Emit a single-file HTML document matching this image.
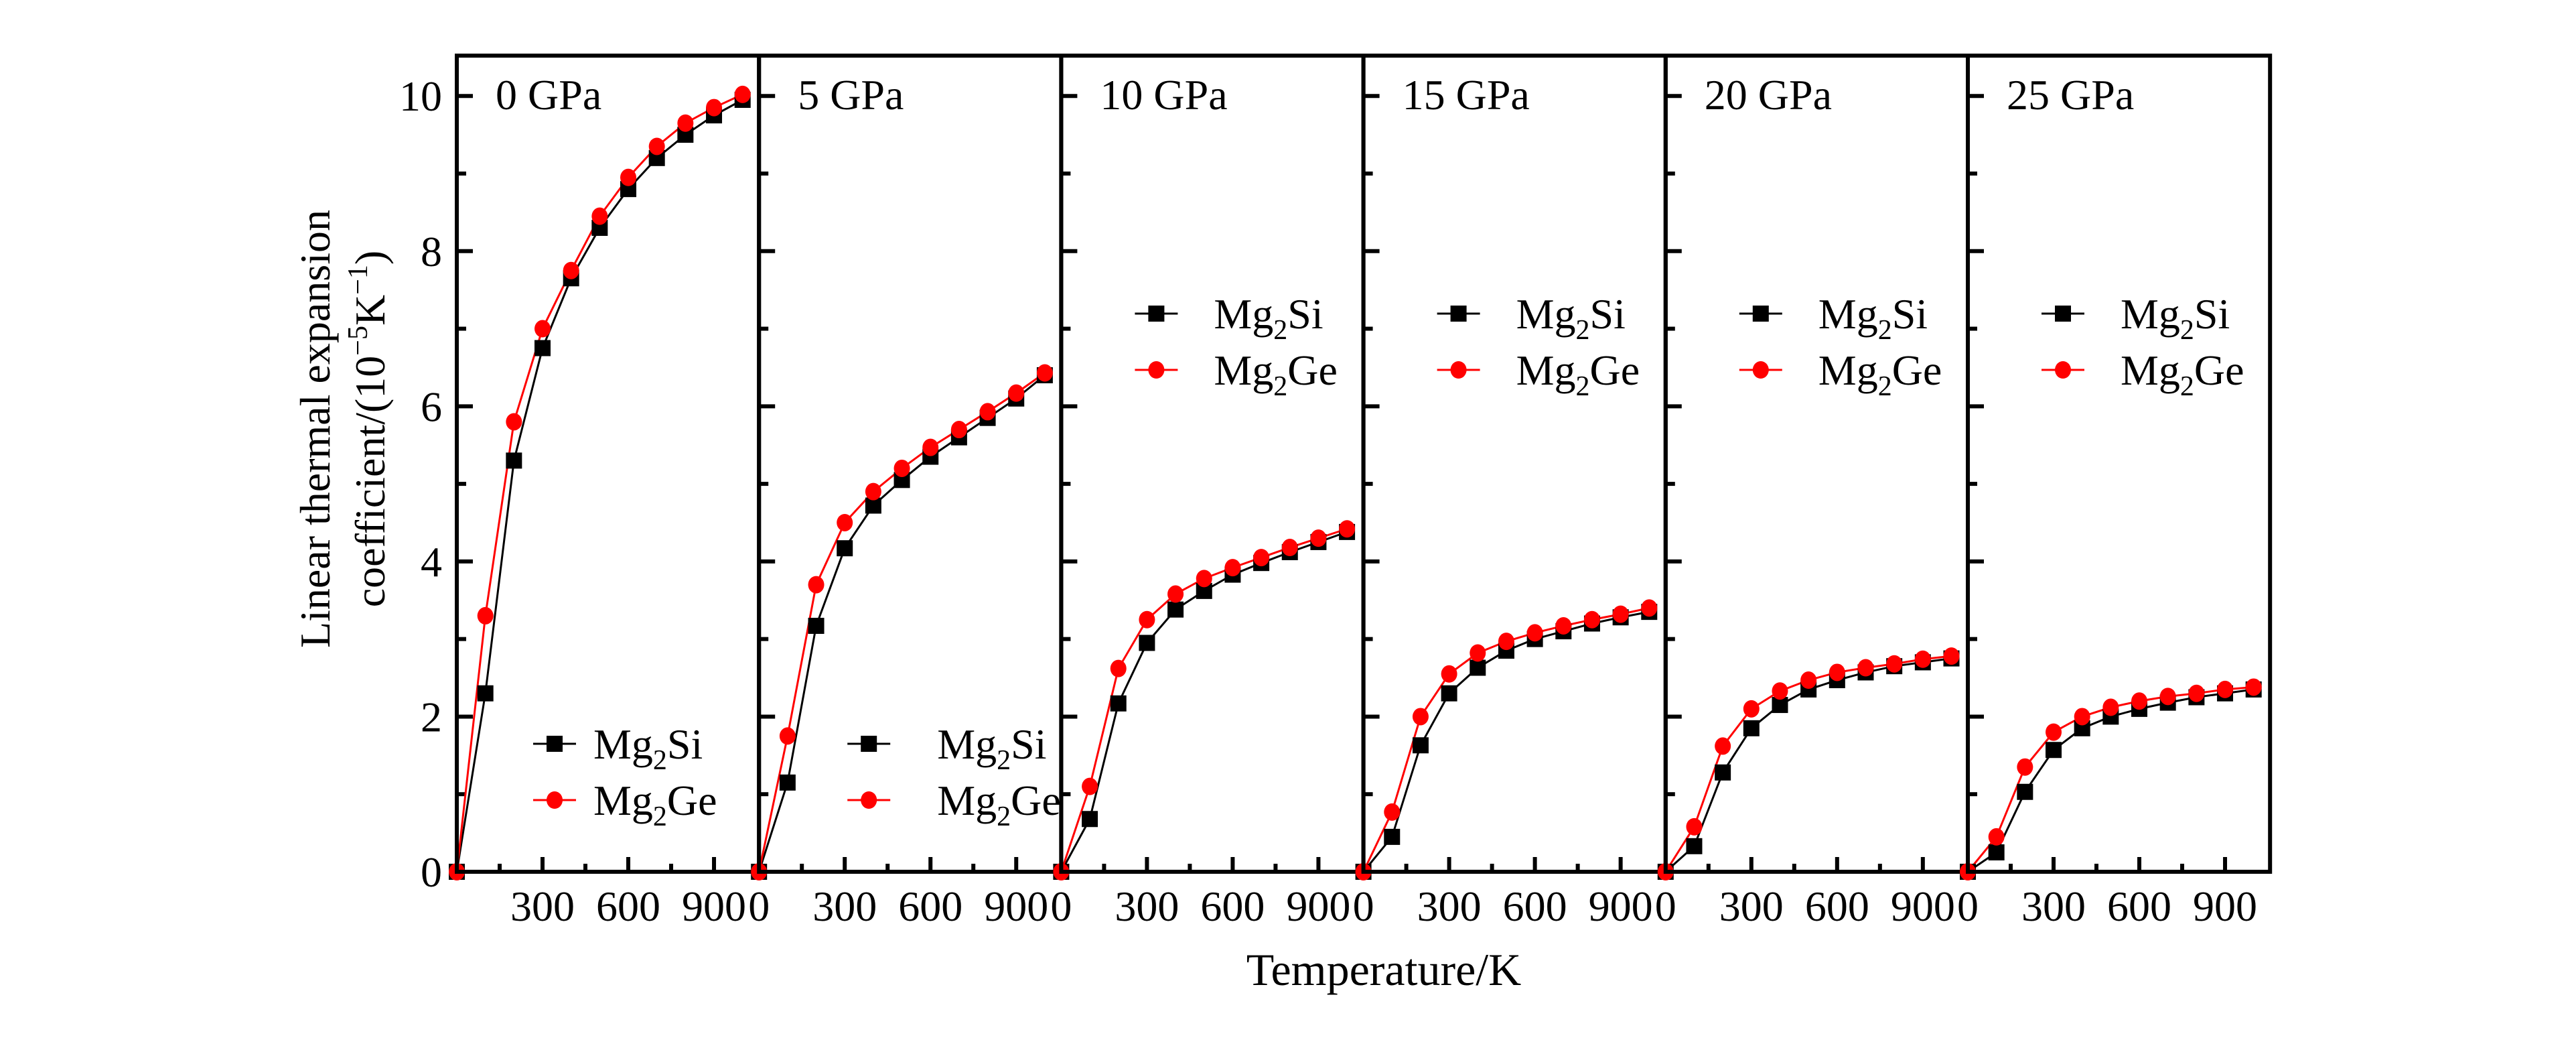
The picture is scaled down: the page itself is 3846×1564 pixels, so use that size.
<!DOCTYPE html>
<html><head><meta charset="utf-8"><style>
html,body{margin:0;padding:0;background:#fff;}
svg text{font-family:"Liberation Serif",serif;fill:#000;}
</style></head><body>
<svg id="chart" width="3846" height="1559" viewBox="0 0 3846 1559" xmlns="http://www.w3.org/2000/svg">
<g id="layer"></g>
<text transform="translate(492,640) rotate(-90)" text-anchor="middle" font-size="64">Linear thermal expansion</text>
<text transform="translate(574,640) rotate(-90)" text-anchor="middle" font-size="64">coefficient/(10<tspan font-size="42" dy="-26">−5</tspan><tspan dy="26">K</tspan><tspan font-size="42" dy="-26">−1</tspan><tspan dy="26">)</tspan></text>
<text x="2066" y="1470" text-anchor="middle" font-size="68">Temperature/K</text>
</svg>
<script>
const temps = [0,100,200,300,400,500,600,700,800,900,1000];
const pressures = ["0 GPa","5 GPa","10 GPa","15 GPa","20 GPa","25 GPa"];
const si0 = [0,2.3,5.3,6.75,7.65,8.3,8.8,9.2,9.5,9.75,9.95];
const ge0 = [0,3.3,5.8,7.0,7.75,8.45,8.95,9.35,9.65,9.85,10.02];
const si5 = [0,1.15,3.17,4.17,4.72,5.05,5.35,5.6,5.85,6.1,6.4];
const ge5 = [0,1.75,3.7,4.5,4.9,5.2,5.47,5.7,5.93,6.17,6.43];
const si10 = [0,0.68,2.17,2.95,3.38,3.62,3.83,3.98,4.12,4.25,4.38];
const ge10 = [0,1.1,2.62,3.25,3.58,3.78,3.92,4.05,4.18,4.3,4.42];
const si15 = [0,0.45,1.63,2.3,2.63,2.85,3.0,3.1,3.2,3.28,3.35];
const ge15 = [0,0.77,2.0,2.55,2.82,2.97,3.08,3.17,3.25,3.32,3.4];
const si20 = [0,0.33,1.28,1.85,2.15,2.35,2.47,2.57,2.65,2.7,2.75];
const ge20 = [0,0.58,1.62,2.1,2.33,2.47,2.57,2.63,2.68,2.74,2.78];
const si25 = [0,0.25,1.03,1.57,1.85,2.0,2.1,2.18,2.25,2.3,2.35];
const ge25 = [0,0.45,1.35,1.8,2.0,2.12,2.2,2.26,2.3,2.35,2.38];
const siSeries = [si0,si5,si10,si15,si20,si25];
const geSeries = [ge0,ge5,ge10,ge15,ge20,ge25];
const yTicks = [0,2,4,6,8,10];
const xTicks = [0,300,600,900];

const NS="http://www.w3.org/2000/svg";
const layer=document.getElementById('layer');
const L0=682, PW=451.2, TOP=83, BOT=1301, YMAX=10.52, XMAX=PW/0.4267;
function mk(tag,attrs,parent){const e=document.createElementNS(NS,tag);for(const k in attrs)e.setAttribute(k,attrs[k]);(parent||layer).appendChild(e);return e;}
function yS(v){return BOT-(BOT-TOP)*v/YMAX;}
function xS(p,t){return L0+p*PW+t*PW/XMAX;}

yTicks.forEach(v=>{const t=mk('text',{x:660,y:yS(v)+22,'text-anchor':'end','font-size':64});t.textContent=v;

});

const legendPos=[{lx:114,tx:204,y1:1110,y2:1194},{lx:132,tx:266,y1:1110,y2:1194}];
for(let p=0;p<6;p++){
  const g=mk('g',{});
  
  
  const x0=xS(p,0);
  for(let v=1;v<=10;v++){const y=yS(v);const len=(v%2==0)?24:14;mk('line',{x1:x0,y1:y,x2:x0+len,y2:y,stroke:'#000','stroke-width':6},g);}
  for(let t=150;t<1000;t+=150){const x=xS(p,t);const len=(t%300==0)?22:12;mk('line',{x1:x,y1:BOT,x2:x,y2:BOT-len,stroke:'#000','stroke-width':6},g);}
  xTicks.forEach(t=>{if(p==0&&t==0)return;const tx=mk('text',{x:xS(p,t),y:1374,'text-anchor':'middle','font-size':64},g);tx.textContent=t;
  
  });
  const si=siSeries[p], ge=geSeries[p];
  const ptsS=temps.map((t,i)=>xS(p,t)+','+yS(si[i])).join(' ');
  const ptsG=temps.map((t,i)=>xS(p,t)+','+yS(ge[i])).join(' ');
  const ls=mk('polyline',{points:ptsS,fill:'none',stroke:'#000','stroke-width':3},g);
  
  
  const lg=mk('polyline',{points:ptsG,fill:'none',stroke:'#f00','stroke-width':3},g);
  
  
  temps.forEach((t,i)=>{const r=mk('rect',{x:xS(p,t)-12,y:yS(si[i])-12,width:24,height:24,fill:'#000'},g);
  
  });
  temps.forEach((t,i)=>{const c=mk('ellipse',{cx:xS(p,t),cy:yS(ge[i]),rx:12,ry:13,fill:'#f00'},g);
  
  });
  mk('rect',{x:x0,y:TOP,width:PW,height:BOT-TOP,fill:'none',stroke:'#000','stroke-width':6},g);
  const tt=mk('text',{x:x0+58,y:163,'font-size':64},g);tt.textContent=pressures[p];
  
  
  const lp=p<2?legendPos[p]:{lx:110,tx:228,y1:468,y2:552};
  const leg=mk('g',{},g);
  
  
  mk('line',{x1:x0+lp.lx,y1:lp.y1,x2:x0+lp.lx+64,y2:lp.y1,stroke:'#000','stroke-width':3},leg);
  mk('rect',{x:x0+lp.lx+20,y:lp.y1-12,width:24,height:24,fill:'#000'},leg);
  mk('line',{x1:x0+lp.lx,y1:lp.y2,x2:x0+lp.lx+64,y2:lp.y2,stroke:'#f00','stroke-width':3},leg);
  mk('ellipse',{cx:x0+lp.lx+32,cy:lp.y2,rx:12,ry:13,fill:'#f00'},leg);
  const t1=mk('text',{x:x0+lp.tx,y:lp.y1+22,'font-size':64},leg);
  t1.innerHTML='Mg<tspan font-size="42" dy="16">2</tspan><tspan dy="-16">Si</tspan>';
  
  
  const t2=mk('text',{x:x0+lp.tx,y:lp.y2+22,'font-size':64},leg);
  t2.innerHTML='Mg<tspan font-size="42" dy="16">2</tspan><tspan dy="-16">Ge</tspan>';
  
  
}
</script>
</body></html>
